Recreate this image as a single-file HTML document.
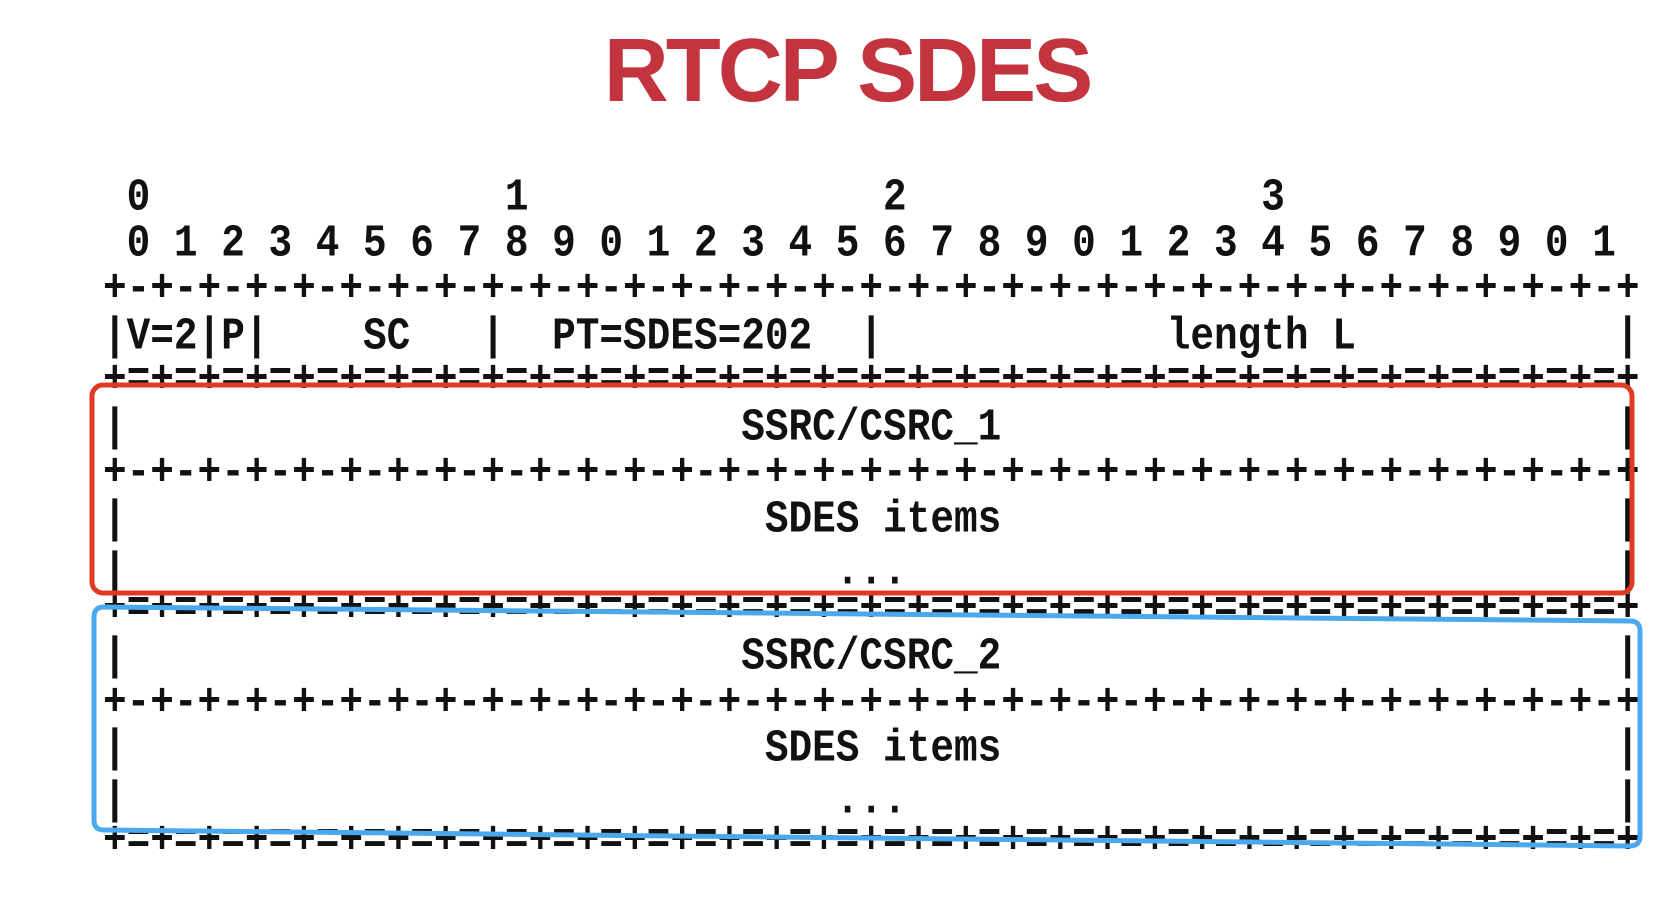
<!DOCTYPE html>
<html><head><meta charset="utf-8"><style>
html,body{margin:0;padding:0;background:#fff;width:1670px;height:908px;overflow:hidden;position:relative}
.t{position:absolute;left:0;top:24px;width:1694px;text-align:center;font-family:"Liberation Sans",sans-serif;font-weight:bold;font-size:90px;letter-spacing:-3px;color:#c3343f;line-height:94px}
.l{position:absolute;left:103px;height:40px;line-height:40px;font-family:"Liberation Mono",monospace;font-weight:bold;font-size:39.4px;color:#111;white-space:pre;transform:scaleY(1.15);transform-origin:0 50%}
</style></head><body>
<div class="t">RTCP SDES</div>
<div class="l" style="top:178px"> 0               1               2               3</div>
<div class="l" style="top:224px"> 0 1 2 3 4 5 6 7 8 9 0 1 2 3 4 5 6 7 8 9 0 1 2 3 4 5 6 7 8 9 0 1</div>
<div class="l" style="top:269px">+-+-+-+-+-+-+-+-+-+-+-+-+-+-+-+-+-+-+-+-+-+-+-+-+-+-+-+-+-+-+-+-+</div>
<div class="l" style="top:317px">|V=2|P|    SC   |  PT=SDES=202  |            length L           |</div>
<div class="l" style="top:360px">+=+=+=+=+=+=+=+=+=+=+=+=+=+=+=+=+=+=+=+=+=+=+=+=+=+=+=+=+=+=+=+=+</div>
<div class="l" style="top:408px">|                          SSRC/CSRC_1                          |</div>
<div class="l" style="top:453px">+-+-+-+-+-+-+-+-+-+-+-+-+-+-+-+-+-+-+-+-+-+-+-+-+-+-+-+-+-+-+-+-+</div>
<div class="l" style="top:500px">|                           SDES items                          |</div>
<div class="l" style="top:552px">|                              ...                              |</div>
<div class="l" style="top:589px">+=+=+=+=+=+=+=+=+=+=+=+=+=+=+=+=+=+=+=+=+=+=+=+=+=+=+=+=+=+=+=+=+</div>
<div class="l" style="top:637px">|                          SSRC/CSRC_2                          |</div>
<div class="l" style="top:683px">+-+-+-+-+-+-+-+-+-+-+-+-+-+-+-+-+-+-+-+-+-+-+-+-+-+-+-+-+-+-+-+-+</div>
<div class="l" style="top:729px">|                           SDES items                          |</div>
<div class="l" style="top:781px">|                              ...                              |</div>
<div class="l" style="top:821px">+=+=+=+=+=+=+=+=+=+=+=+=+=+=+=+=+=+=+=+=+=+=+=+=+=+=+=+=+=+=+=+=+</div>
<svg width="1670" height="908" style="position:absolute;left:0;top:0">
<rect x="92" y="385" width="1540" height="208" rx="11" fill="none" stroke="#e03a25" stroke-width="5"/>
<path d="M104 607 L1630 621 Q1640 621 1640 631 L1640 836 Q1640 846 1630 846 L104 830 Q94 830 94 820 L94 617 Q94 607 104 607 Z" fill="none" stroke="#4aa8ee" stroke-width="5"/>
</svg>
</body></html>
